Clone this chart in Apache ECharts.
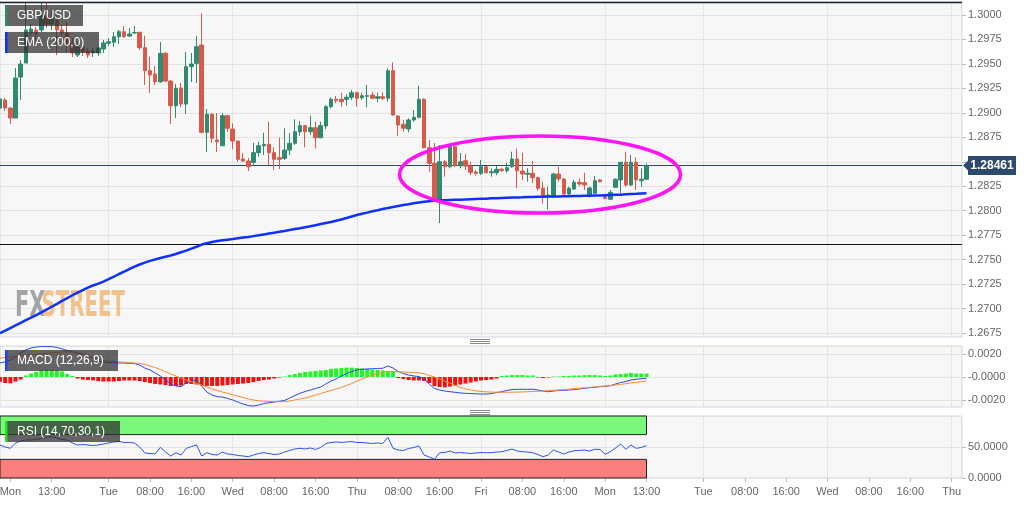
<!DOCTYPE html>
<html><head><meta charset="utf-8">
<script src="https://cdn.jsdelivr.net/npm/echarts/dist/echarts.min.js"></script>
<style>html,body{margin:0;padding:0;background:#fff}#c{width:1032px;height:505px}</style>
</head><body><div id="c"></div>
<script>
// ---------- DATA ----------
const opens=[1.29049,1.29131,1.29049,1.28947,1.29366,1.29509,1.29816,1.29847,1.29847,1.29990,
1.29908,1.29949,1.29847,1.29816,1.29714,1.29591,1.29673,1.29632,1.29612,1.29612,
1.29652,1.29711,1.29721,1.29778,1.29829,1.29785,1.29816,1.29823,1.29666,1.29431,
1.29397,1.29318,1.29608,1.29325,1.29073,1.29254,1.29090,1.29472,1.29506,1.29693,
1.28801,1.28985,1.28722,1.28664,1.28971,1.28835,1.28712,1.28528,1.28508,1.28494,
1.28593,1.28664,1.28678,1.28593,1.28542,1.28535,1.28620,1.28689,1.28807,1.28869,
1.28807,1.28848,1.28746,1.28866,1.29063,1.29138,1.29138,1.29138,1.29159,1.29206,
1.29155,1.29169,1.29182,1.29149,1.29165,1.29149,1.29431,1.28968,1.28883,1.28835,
1.28927,1.28954,1.29138,1.28644,1.28484,1.28092,1.28500,1.28449,1.28654,1.28459,
1.28511,1.28456,1.28395,1.28382,1.28449,1.28388,1.28388,1.28423,1.28409,1.28449,
1.28528,1.28405,1.28372,1.28382,1.28337,1.28229,1.28140,1.28143,1.28375,1.28324,
1.28170,1.28222,1.28290,1.28286,1.28150,1.28178,1.28314,1.28143,1.28116,1.28239,
1.28314,1.28494,1.28263,1.28494,1.28306,1.28321];
const closes=[1.29142,1.29049,1.28947,1.29356,1.29499,1.29847,1.29857,1.29806,1.30000,1.29908,
1.29969,1.29847,1.29816,1.29714,1.29612,1.29673,1.29622,1.29591,1.29632,1.29663,
1.29714,1.29727,1.29778,1.29829,1.29778,1.29806,1.29821,1.29666,1.29431,1.29387,
1.29318,1.29608,1.29325,1.29073,1.29251,1.29090,1.29472,1.29499,1.29676,1.28801,
1.28985,1.28740,1.28705,1.28971,1.28842,1.28712,1.28525,1.28508,1.28449,1.28593,
1.28664,1.28678,1.28593,1.28525,1.28525,1.28620,1.28689,1.28807,1.28869,1.28807,
1.28848,1.28746,1.28869,1.29063,1.29138,1.29124,1.29114,1.29159,1.29206,1.29149,
1.29175,1.29175,1.29149,1.29165,1.29149,1.29431,1.28978,1.28876,1.28842,1.28927,
1.28954,1.29138,1.28644,1.28484,1.28119,1.28500,1.28449,1.28654,1.28459,1.28500,
1.28456,1.28392,1.28382,1.28449,1.28388,1.28398,1.28423,1.28409,1.28439,1.28528,
1.28409,1.28375,1.28382,1.28337,1.28229,1.28143,1.28160,1.28375,1.28324,1.28170,
1.28229,1.28290,1.28273,1.28263,1.28232,1.28306,1.28296,1.28126,1.28188,1.28321,
1.28494,1.28263,1.28494,1.28314,1.28321,1.28461];
const lows=[1.29019,1.29019,1.28886,1.28947,1.29131,1.29509,1.29785,1.29745,1.29826,1.29867,
1.29847,1.29591,1.29745,1.29612,1.29571,1.29571,1.29581,1.29560,1.29571,1.29581,
1.29612,1.29683,1.29673,1.29704,1.29765,1.29775,1.29806,1.29642,1.29285,1.29203,
1.29285,1.29305,1.29315,1.28886,1.28947,1.29060,1.28988,1.29315,1.29305,1.28791,
1.28600,1.28692,1.28600,1.28661,1.28807,1.28627,1.28500,1.28500,1.28405,1.28456,
1.28552,1.28569,1.28467,1.28416,1.28426,1.28518,1.28569,1.28671,1.28766,1.28648,
1.28774,1.28637,1.28740,1.28835,1.29046,1.29097,1.29063,1.29073,1.29131,1.29063,
1.29131,1.29057,1.29138,1.29108,1.29131,1.29114,1.28971,1.28766,1.28807,1.28801,
1.28910,1.28944,1.28637,1.28398,1.28092,1.27874,1.28347,1.28433,1.28446,1.28433,
1.28416,1.28364,1.28361,1.28364,1.28382,1.28347,1.28364,1.28398,1.28388,1.28439,
1.28229,1.28314,1.28296,1.28280,1.28204,1.28074,1.28014,1.28126,1.28296,1.28160,
1.28160,1.28211,1.28255,1.28211,1.28136,1.28170,1.28290,1.28116,1.28109,1.28232,
1.28178,1.28245,1.28252,1.28211,1.28245,1.28314];
const highs=[1.29172,1.29152,1.29060,1.29458,1.29540,1.30123,1.29908,1.29877,1.30123,1.30123,
1.30051,1.30010,1.29898,1.29928,1.29765,1.29724,1.29704,1.29663,1.29663,1.29673,
1.29745,1.29765,1.29826,1.29847,1.29888,1.29867,1.29888,1.29829,1.29788,1.29571,
1.29479,1.29724,1.29622,1.29336,1.29295,1.29305,1.29622,1.29612,1.29785,1.30017,
1.29039,1.28998,1.28998,1.29001,1.28978,1.28893,1.28712,1.28589,1.28538,1.28695,
1.28705,1.28797,1.28910,1.28648,1.28746,1.28842,1.28791,1.28934,1.28917,1.28876,
1.28971,1.28910,1.28910,1.29080,1.29159,1.29172,1.29206,1.29190,1.29233,1.29216,
1.29206,1.29285,1.29216,1.29206,1.29210,1.29455,1.29517,1.28971,1.28927,1.28944,
1.29029,1.29277,1.29149,1.28722,1.28692,1.28671,1.28518,1.28671,1.28664,1.28589,
1.28579,1.28500,1.28416,1.28518,1.28456,1.28433,1.28459,1.28439,1.28490,1.28603,
1.28637,1.28593,1.28433,1.28508,1.28347,1.28296,1.28245,1.28388,1.28449,1.28331,
1.28245,1.28314,1.28331,1.28388,1.28245,1.28354,1.28324,1.28150,1.28211,1.28331,
1.28500,1.28603,1.28569,1.28546,1.28433,1.28484];
const ema200=[1.26748,1.26775,1.26801,1.26827,1.26854,1.26881,1.26906,1.26933,1.26960,1.26989,
1.27018,1.27047,1.27078,1.27107,1.27136,1.27163,1.27189,1.27214,1.27236,1.27254,
1.27275,1.27300,1.27325,1.27353,1.27378,1.27404,1.27428,1.27450,1.27469,1.27487,
1.27502,1.27516,1.27529,1.27542,1.27557,1.27575,1.27592,1.27613,1.27631,1.27654,
1.27668,1.27680,1.27690,1.27697,1.27704,1.27710,1.27718,1.27725,1.27732,1.27740,
1.27748,1.27757,1.27766,1.27775,1.27784,1.27793,1.27803,1.27812,1.27821,1.27831,
1.27841,1.27852,1.27863,1.27874,1.27884,1.27898,1.27910,1.27925,1.27941,1.27956,
1.27968,1.27980,1.27994,1.28005,1.28017,1.28027,1.28038,1.28048,1.28058,1.28066,
1.28075,1.28083,1.28091,1.28097,1.28103,1.28106,1.28108,1.28110,1.28112,1.28113,
1.28115,1.28117,1.28119,1.28121,1.28123,1.28126,1.28128,1.28130,1.28132,1.28134,
1.28136,1.28137,1.28139,1.28140,1.28142,1.28143,1.28144,1.28145,1.28146,1.28147,
1.28148,1.28149,1.28150,1.28152,1.28153,1.28155,1.28156,1.28158,1.28160,1.28162,
1.28164,1.28167,1.28170,1.28172,1.28176,1.28178];
const macdLine=[0.00122,0.00131,0.00148,0.00174,0.00209,0.00235,0.00252,0.00261,0.00265,0.00265,
0.00264,0.00257,0.00244,0.00231,0.00218,0.00209,0.00200,0.00183,0.00161,0.00139,
0.00131,0.00126,0.00124,0.00122,0.00122,0.00119,0.00117,0.00104,0.00078,0.00061,
0.00035,0.00009,-0.00026,-0.00061,-0.00078,-0.00084,-0.00052,-0.00035,-0.00026,-0.00078,
-0.00131,-0.00157,-0.00171,-0.00174,-0.00187,-0.00200,-0.00218,-0.00235,-0.00248,-0.00252,
-0.00244,-0.00231,-0.00224,-0.00218,-0.00211,-0.00204,-0.00183,-0.00161,-0.00142,-0.00126,
-0.00113,-0.00100,-0.00087,-0.00061,-0.00035,-0.00017,0.00009,0.00030,0.00048,0.00061,
0.00067,0.00070,0.00072,0.00074,0.00076,0.00096,0.00078,0.00048,0.00030,0.00017,
0.00009,0.00004,-0.00017,-0.00061,-0.00100,-0.00113,-0.00122,-0.00128,-0.00133,-0.00139,
-0.00142,-0.00144,-0.00146,-0.00148,-0.00148,-0.00144,-0.00135,-0.00128,-0.00117,-0.00109,
-0.00107,-0.00107,-0.00107,-0.00107,-0.00113,-0.00122,-0.00128,-0.00122,-0.00117,-0.00116,
-0.00113,-0.00109,-0.00104,-0.00098,-0.00093,-0.00090,-0.00084,-0.00081,-0.00076,-0.00061,
-0.00048,-0.00039,-0.00026,-0.00020,-0.00015,-0.00011];
const signalLine=[0.00163,0.00170,0.00176,0.00181,0.00185,0.00190,0.00193,0.00197,0.00202,0.00206,
0.00211,0.00214,0.00218,0.00219,0.00216,0.00207,0.00196,0.00183,0.00170,0.00157,
0.00145,0.00139,0.00135,0.00131,0.00128,0.00125,0.00122,0.00119,0.00109,0.00096,
0.00083,0.00065,0.00046,0.00026,0.00009,-0.00009,-0.00026,-0.00041,-0.00055,-0.00071,
-0.00087,-0.00103,-0.00117,-0.00131,-0.00142,-0.00155,-0.00167,-0.00178,-0.00190,-0.00200,
-0.00206,-0.00211,-0.00213,-0.00215,-0.00215,-0.00214,-0.00209,-0.00200,-0.00191,-0.00183,
-0.00170,-0.00157,-0.00144,-0.00130,-0.00117,-0.00104,-0.00090,-0.00074,-0.00057,-0.00035,
-0.00017,0.00000,0.00017,0.00030,0.00043,0.00048,0.00048,0.00045,0.00043,0.00041,
0.00039,0.00037,0.00028,0.00013,0.00000,-0.00017,-0.00035,-0.00055,-0.00072,-0.00090,
-0.00104,-0.00113,-0.00120,-0.00126,-0.00129,-0.00131,-0.00132,-0.00133,-0.00133,-0.00132,
-0.00131,-0.00130,-0.00128,-0.00126,-0.00124,-0.00122,-0.00119,-0.00116,-0.00113,-0.00110,
-0.00106,-0.00102,-0.00098,-0.00094,-0.00090,-0.00086,-0.00082,-0.00078,-0.00074,-0.00070,
-0.00064,-0.00058,-0.00052,-0.00046,-0.00040,-0.00035];
const macdHist=[-0.00041,-0.00052,-0.00055,-0.00039,-0.00022,0.00013,0.00030,0.00044,0.00057,0.00061,
0.00061,0.00057,0.00048,0.00026,0.00009,-0.00013,-0.00022,-0.00026,-0.00030,-0.00035,
-0.00039,-0.00039,-0.00039,-0.00035,-0.00030,-0.00030,-0.00030,-0.00035,-0.00044,-0.00052,
-0.00061,-0.00065,-0.00070,-0.00078,-0.00078,-0.00074,-0.00061,-0.00061,-0.00065,-0.00074,
-0.00078,-0.00078,-0.00078,-0.00074,-0.00070,-0.00065,-0.00061,-0.00057,-0.00052,-0.00044,
-0.00035,-0.00026,-0.00022,-0.00013,-0.00004,0.00004,0.00017,0.00026,0.00035,0.00044,
0.00048,0.00052,0.00057,0.00061,0.00070,0.00074,0.00078,0.00081,0.00081,0.00078,
0.00074,0.00070,0.00065,0.00061,0.00057,0.00052,0.00044,-0.00009,-0.00017,-0.00026,
-0.00030,-0.00030,-0.00035,-0.00052,-0.00078,-0.00087,-0.00090,-0.00083,-0.00074,-0.00065,
-0.00057,-0.00048,-0.00039,-0.00030,-0.00026,-0.00022,-0.00013,0.00009,0.00013,0.00017,
0.00017,0.00017,0.00013,0.00013,-0.00004,-0.00009,-0.00004,0.00004,0.00004,0.00009,
0.00010,0.00013,0.00013,0.00016,0.00017,0.00016,0.00013,0.00009,0.00013,0.00022,
0.00026,0.00030,0.00035,0.00030,0.00030,0.00030];
const rsi14=[53.2,50.0,47.9,56.5,59.7,61.3,61.3,62.1,63.7,65.3,
66.6,64.5,62.1,61.3,56.5,53.2,54.0,53.2,52.4,53.2,
54.8,56.5,58.1,58.9,57.3,57.3,56.5,50.0,40.3,39.5,
38.7,49.5,41.9,35.5,40.8,37.1,47.6,50.8,53.2,35.5,
40.8,37.9,37.1,41.9,38.7,37.9,36.3,35.5,34.4,37.1,
39.5,40.8,39.5,37.9,38.7,41.9,44.4,46.8,47.9,46.8,
48.4,46.0,49.2,55.6,57.3,58.1,57.3,58.1,58.9,57.3,
57.3,56.5,55.6,56.5,55.6,65.6,47.9,45.2,44.4,47.6,
49.2,51.6,37.1,33.9,30.2,40.8,41.1,43.5,40.3,41.1,
40.3,39.5,40.3,41.1,40.8,40.8,41.9,42.4,44.4,46.8,
43.5,42.4,41.9,40.8,37.9,34.4,37.1,45.2,41.9,38.7,
41.9,44.0,44.4,45.2,43.5,46.3,46.0,38.2,42.4,48.4,
54.8,46.3,53.2,47.9,49.2,52.1];
const slotCount=187;               // hourly slots on the time axis (incl. empty future)
const tickIdx=[2,10,21,29,37,45,53,61,69,77,85,93,101,109,117,125,136,144,152,160,168,176,184];
const tickLbl=['Mon','13:00','Tue','08:00','16:00','Wed','08:00','16:00','Thu','08:00','16:00','Fri','08:00','16:00','Mon','13:00','Tue','08:00','16:00','Wed','08:00','16:00','Thu'];
const dayIdx=[21,45,69,93,117,136,160,184];
const lastPrice=1.28461;
const supportLevel=1.27659;
const topLevel=1.30136;
const rsiUpper=70, rsiLower=30;
const rsiEndIdx=125;

// ---------- CHART ----------
const cats=Array.from({length:slotCount},(_,i)=>String(i));
const tickSet=new Set(tickIdx);
const daySet=new Set(dayIdx);
const lblMap={}; tickIdx.forEach((t,i)=>lblMap[t]=tickLbl[i]);
const candles=opens.map((o,i)=>[o,closes[i],lows[i],highs[i]]);
const FONT='"Liberation Sans", Arial, sans-serif';
const BG='#f7f7f7', BORDER='#cfd5e3', SPLIT='#e4e4e4', LBL='#666';
const UP='#2e8a70', DOWN='#d85a48';

const chart=echarts.init(document.getElementById('c'),null,{renderer:'canvas'});
const gridBase={left:0,width:962,containLabel:false,outerBoundsMode:'none'};
const xBase={type:'category',data:cats,boundaryGap:false};
const xDecor=Object.assign({},xBase,{axisLine:{show:false},axisTick:{show:false},axisLabel:{show:false},
  splitLine:{show:true,interval:(i)=>daySet.has(i),lineStyle:{color:SPLIT,width:1}}});
const yRightBase={type:'value',position:'right',axisLine:{show:false},
  axisTick:{show:true,length:4,lineStyle:{color:'#b5bdd0'}},
  axisLabel:{color:LBL,fontSize:11,margin:6,fontFamily:FONT},
  splitLine:{show:true,lineStyle:{color:SPLIT,width:1}}};

const option={
  animation:false,
  backgroundColor:'#ffffff',
  textStyle:{fontFamily:FONT},
  grid:[
    Object.assign({top:2,height:335,show:true,backgroundColor:BG,borderColor:BORDER,borderWidth:1},gridBase),
    Object.assign({top:15,height:318},gridBase),
    Object.assign({top:346,height:61,show:true,backgroundColor:BG,borderColor:BORDER,borderWidth:1},gridBase),
    Object.assign({top:354,height:46},gridBase),
    Object.assign({top:416,height:62,show:true,backgroundColor:BG,borderColor:BORDER,borderWidth:1},gridBase)
  ],
  xAxis:[
    Object.assign({gridIndex:0},xDecor),
    Object.assign({gridIndex:1,show:false},xBase),
    Object.assign({gridIndex:2},xDecor),
    Object.assign({gridIndex:3,show:false},xBase),
    Object.assign({},xBase,{gridIndex:4,axisLine:{show:false},
      axisTick:{show:true,interval:(i)=>tickSet.has(i),length:4,lineStyle:{color:'#b5bdd0'}},
      axisLabel:{show:true,interval:(i)=>tickSet.has(i),formatter:(v,i)=>lblMap[i]||'',color:LBL,fontSize:11,margin:8,fontFamily:FONT},
      splitLine:{show:true,interval:(i)=>daySet.has(i),lineStyle:{color:SPLIT,width:1}}})
  ],
  yAxis:[
    {gridIndex:0,type:'value',show:false,min:0,max:1},
    Object.assign({},yRightBase,{gridIndex:1,min:1.2675,max:1.3,interval:0.0025,
      axisLabel:Object.assign({},yRightBase.axisLabel,{formatter:(v)=>v.toFixed(4)})}),
    {gridIndex:2,type:'value',show:false,min:0,max:1},
    Object.assign({},yRightBase,{gridIndex:3,min:-0.002,max:0.002,interval:0.002,
      axisLabel:Object.assign({},yRightBase.axisLabel,{formatter:(v)=>Math.abs(v)<1e-9?'-0.0000':v.toFixed(4)})}),
    Object.assign({},yRightBase,{gridIndex:4,min:0,max:100,interval:50,
      axisLabel:Object.assign({},yRightBase.axisLabel,{showMaxLabel:false,formatter:(v)=>v.toFixed(4)})})
  ],
  series:[
    {type:'candlestick',name:'GBP/USD',xAxisIndex:1,yAxisIndex:1,data:candles,clip:false,barWidth:4,z:3,
      itemStyle:{color:UP,color0:DOWN,borderColor:UP,borderColor0:DOWN,borderWidth:1}},
    {type:'line',name:'EMA (200,0)',xAxisIndex:1,yAxisIndex:1,data:ema200,showSymbol:false,symbol:'none',clip:false,z:4,
      lineStyle:{color:'#1030ff',width:2.5},
      markLine:{silent:true,symbol:['none','none'],label:{show:false},animation:false,precision:6,z:2,
        data:[
          {yAxis:lastPrice,lineStyle:{color:'#2b4568',width:1,type:'solid'}},
          {yAxis:supportLevel,lineStyle:{color:'#111',width:1.2,type:'solid'}}
        ]}},
    {type:'bar',name:'MACD hist',xAxisIndex:3,yAxisIndex:3,data:macdHist,barWidth:4,clip:false,
      itemStyle:{color:(p)=>p.value>=0?'#22f522':'#f50f0f'}},
    {type:'line',name:'MACD',xAxisIndex:3,yAxisIndex:3,data:macdLine,showSymbol:false,symbol:'none',clip:false,
      lineStyle:{color:'#2848f0',width:1}},
    {type:'line',name:'Signal',xAxisIndex:3,yAxisIndex:3,data:signalLine,showSymbol:false,symbol:'none',clip:false,
      lineStyle:{color:'#ff8a2c',width:1}},
    {type:'line',name:'RSI',xAxisIndex:4,yAxisIndex:4,data:rsi14,showSymbol:false,symbol:'none',z:4,
      lineStyle:{color:'#3050ee',width:1},
      markArea:{silent:true,
        data:[
          [{xAxis:'0',yAxis:rsiUpper,itemStyle:{color:'rgba(118,248,118,0.97)',borderColor:'#222',borderWidth:1}},{xAxis:String(rsiEndIdx),yAxis:100}],
          [{xAxis:'0',yAxis:0,itemStyle:{color:'rgba(250,122,122,0.97)',borderColor:'#222',borderWidth:1}},{xAxis:String(rsiEndIdx),yAxis:rsiLower}]
        ]}}
  ]
};
chart.setOption(option);

// ---------- annotations / decorations ----------
const ZTOP=200;
function labelBox(x,y,w,h,bar,text){
  return [
    {type:'rect',z:ZTOP,silent:true,shape:{x:x,y:y,width:w,height:h},style:{fill:'rgba(48,48,48,0.74)'}},
    {type:'rect',z:ZTOP+1,silent:true,shape:{x:x,y:y,width:2.5,height:h},style:{fill:bar}},
    {type:'text',z:ZTOP+2,silent:true,x:x+12,y:y+h/2+0.5,style:{text:text,fill:'#ffffff',font:'12px '+FONT,textVerticalAlign:'middle',textAlign:'left'}}
  ];
}
function handle(cx,cy){
  return [0,2,4].map(d=>({type:'line',z:ZTOP,silent:true,shape:{x1:cx-10,y1:cy+d+0.5,x2:cx+10,y2:cy+d+0.5},style:{stroke:'#8a8a8a',lineWidth:1}}));
}
const py=chart.convertToPixel({yAxisIndex:1},lastPrice);
const pyTop=chart.convertToPixel({yAxisIndex:1},topLevel);
const gridRight=962;
chart.setOption({graphic:[].concat(
  [
    {type:'text',x:15,y:289,z:1,silent:true,scaleX:0.58,style:{text:'FX',fill:'#a3a3a8',font:'bold 36px "DejaVu Sans"',textVerticalAlign:'top'}},
    {type:'text',x:41.5,y:289,z:1,silent:true,scaleX:0.55,style:{text:'STREET',fill:'#f2c18c',font:'bold 36px "DejaVu Sans"',textVerticalAlign:'top'}},
    {type:'line',z:ZTOP-5,silent:true,shape:{x1:0,y1:Math.round(pyTop)+0.5,x2:gridRight,y2:Math.round(pyTop)+0.5},style:{stroke:'#1b2233',lineWidth:1.5}}
  ],
  labelBox(5,5,78,21,'#2f8a72','GBP/USD'),
  labelBox(5,32,94,21,'#1030ff','EMA (200,0)'),
  labelBox(5,350,113,21,'#1f40ff','MACD (12,26,9)'),
  labelBox(5,421,115,21,'#20e020','RSI (14,70,30,1)'),
  handle(480,339),
  handle(480,410),
  [
    {type:'ellipse',z:ZTOP+10,silent:true,shape:{cx:540,cy:174.5,rx:140.5,ry:38.5},style:{fill:'none',stroke:'#ff14f5',lineWidth:3.5}},
    {type:'polygon',z:ZTOP+10,silent:true,shape:{points:[[gridRight+1,py],[gridRight+6,py-5],[gridRight+6,py+5]]},style:{fill:'#2d4a6e'}},
    {type:'rect',z:ZTOP+10,silent:true,shape:{x:gridRight+6,y:py-9.5,width:48,height:19},style:{fill:'#2d4a6e'}},
    {type:'text',z:ZTOP+11,silent:true,x:gridRight+30,y:py+0.5,style:{text:lastPrice.toFixed(5),fill:'#fff',font:'bold 12px '+FONT,textAlign:'center',textVerticalAlign:'middle'}}
  ]
)});
</script>
</body></html>
